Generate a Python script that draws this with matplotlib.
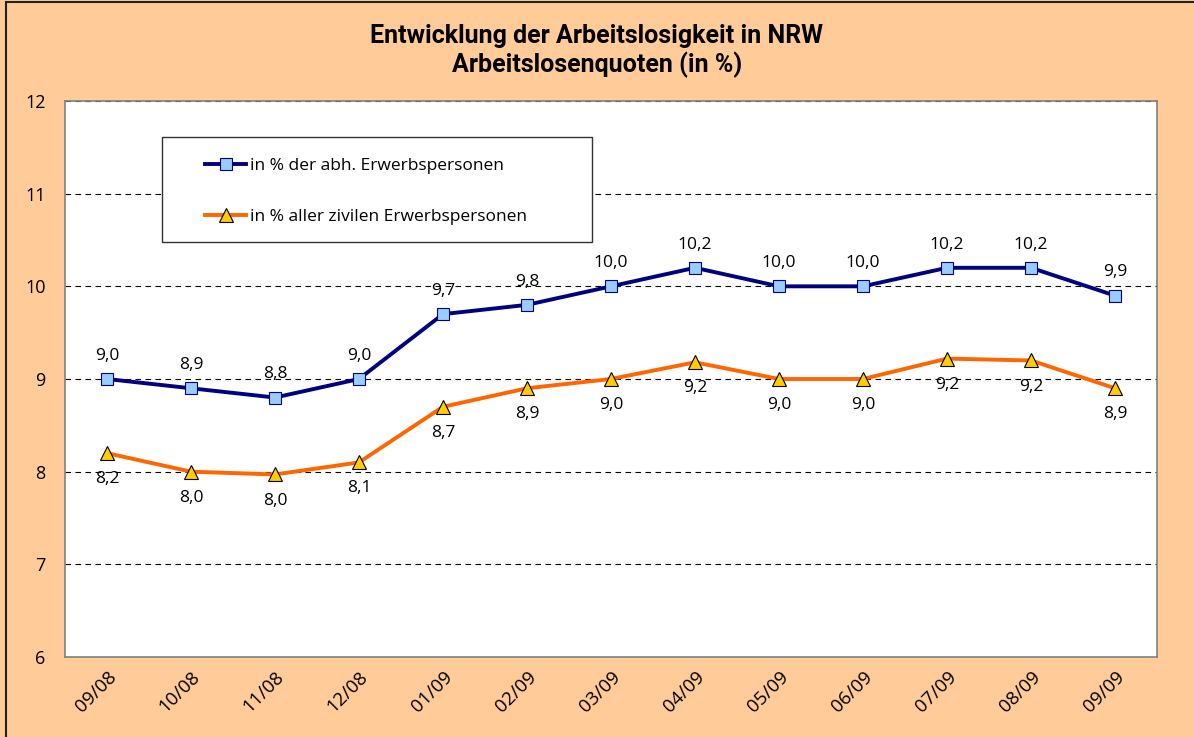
import matplotlib.pyplot as plt
from matplotlib.patches import Rectangle

plt.rcParams['font.family'] = ['Open Sans', 'DejaVu Sans']

monate = ["09/08", "10/08", "11/08", "12/08", "01/09", "02/09", "03/09",
          "04/09", "05/09", "06/09", "07/09", "08/09", "09/09"]
abh = [9.0, 8.9, 8.8, 9.0, 9.7, 9.8, 10.0, 10.2, 10.0, 10.0, 10.2, 10.2, 9.9]
zivil = [8.2, 8.0, 7.97, 8.1, 8.7, 8.9, 9.0, 9.18, 9.0, 9.0, 9.22, 9.2, 8.9]

bg = "#FFCC99"
fig = plt.figure(figsize=(11.94, 7.37), dpi=100, facecolor=bg)
fig.patches.append(Rectangle((0.005, -0.01), 1.02, 1.007, transform=fig.transFigure,
                             fill=False, edgecolor="#222222", linewidth=1.5))
ax = fig.add_axes([0.0544, 0.1085, 0.9146, 0.7545])
ax.set_facecolor("white")

x = list(range(len(monate)))
ax.plot(x, abh, color="#000080", linewidth=2.8, marker="s", markersize=8,
        markerfacecolor="#99CCFF", markeredgecolor="#000080", markeredgewidth=0.8,
        label="in % der abh. Erwerbspersonen", zorder=3)
ax.plot(x, zivil, color="#FF6600", linewidth=2.8, marker="^", markersize=10,
        markerfacecolor="#FFCC00", markeredgecolor="#000000", markeredgewidth=0.8,
        label="in % aller zivilen Erwerbspersonen", zorder=3)

for i, v in enumerate(abh):
    ax.annotate(f"{v:.1f}".replace(".", ","), (i, v), xytext=(0, 11),
                textcoords="offset points", ha="center", va="bottom", fontsize=12.5)
for i, v in enumerate(zivil):
    ax.annotate(f"{v:.1f}".replace(".", ","), (i, v), xytext=(0, -13),
                textcoords="offset points", ha="center", va="top", fontsize=12.5)

ax.set_xlim(-0.5, len(monate) - 0.5)
ax.set_ylim(6, 12)
ax.set_yticks([6, 7, 8, 9, 10, 11, 12])
ax.set_xticks(x)
ax.set_xticklabels(monate, rotation=45, ha="right", rotation_mode="anchor", fontsize=13.5)
ax.tick_params(axis="y", length=0, pad=14, labelsize=13)
ax.tick_params(axis="x", length=0, pad=8)
ax.grid(axis="y", color="black", linestyle=(0, (5, 4)), linewidth=0.8)
for s in ax.spines.values():
    s.set_color("#808080")
    s.set_linewidth(1.2)

# Legendenrahmen separat, damit die Breite wie im Original passt
ax.add_patch(Rectangle((0.0888, 0.7464), 0.3938, 0.1888, transform=ax.transAxes,
                       facecolor="white", edgecolor="#333333", linewidth=1.0, zorder=4))
leg = ax.legend(loc="upper left", bbox_to_anchor=(0.128, 0.898), fontsize=12.5,
                frameon=False, labelspacing=2.0, borderpad=0,
                handlelength=2.4, handletextpad=0.2, borderaxespad=0)
leg.set_zorder(5)

fig.suptitle("Entwicklung der Arbeitslosigkeit in NRW\nArbeitslosenquoten (in %)",
             y=0.968, fontsize=18, fontweight="bold",
             family=["Roboto", "DejaVu Sans"], linespacing=1.2)

fig.savefig("out.png", dpi=100, facecolor=bg)
